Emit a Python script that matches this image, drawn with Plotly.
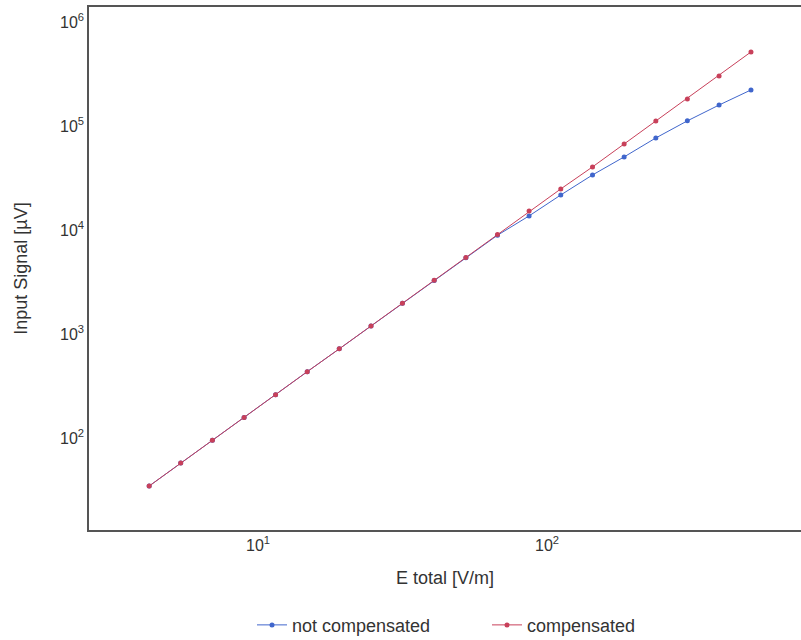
import plotly.graph_objects as go

# E total [V/m]
e_total = [4.20, 5.40, 6.95, 8.95, 11.5, 14.8, 19.1, 24.6, 31.6, 40.7,
           52.4, 67.4, 86.7, 111.6, 143.7, 184.9, 238, 306, 394, 508]

compensated = [34.5, 57.3, 95, 157, 261, 434, 719, 1194, 1978, 3281,
               5445, 9036, 15200, 24800, 40400, 67100, 111700, 182000, 303000, 515000]

not_compensated = [34.5, 57.3, 95, 157, 261, 434, 719, 1194, 1978, 3270,
                   5400, 8900, 13650, 21700, 33800, 50400, 76700, 112000, 159000, 222000]

y_tickvals = [1e2, 1e3, 1e4, 1e5, 1e6]
y_ticktext = ["10<sup>2</sup>", "10<sup>3</sup>", "10<sup>4</sup>", "10<sup>5</sup>", "10<sup>6</sup>"]
x_tickvals = [1e1, 1e2]
x_ticktext = ["10<sup>1</sup>", "10<sup>2</sup>"]

blue = "#4066cc"
red = "#c8405a"

fig = go.Figure()
fig.add_trace(go.Scatter(
    x=e_total, y=not_compensated, mode="lines+markers", name="not compensated",
    line=dict(color=blue, width=1), marker=dict(color=blue, size=5)))
fig.add_trace(go.Scatter(
    x=e_total, y=compensated, mode="lines+markers", name="compensated",
    line=dict(color=red, width=1), marker=dict(color=red, size=5)))

font = "Liberation Sans, Arial, sans-serif"
fig.update_layout(
    width=801, height=640,
    margin=dict(l=89, r=0, t=7, b=110, autoexpand=False),
    paper_bgcolor="white", plot_bgcolor="white",
    font=dict(family=font, size=16, color="#333333"),
    showlegend=True,
    legend=dict(orientation="h", x=0.559, xanchor="center", y=-0.182, yanchor="middle",
                font=dict(size=18, color="#333333"), entrywidth=190, entrywidthmode="pixels"),
    xaxis=dict(type="log", range=[0.415, 2.879], tickvals=x_tickvals, ticktext=x_ticktext,
               showgrid=False, zeroline=False, showline=True, linecolor="#555555", linewidth=1.5,
               mirror=True, ticks="", tickfont=dict(size=16), automargin=False,
               title=dict(text="E total [V/m]", standoff=18, font=dict(size=18))),
    yaxis=dict(type="log", range=[1.115, 6.144], tickvals=y_tickvals, ticktext=y_ticktext,
               showgrid=False, zeroline=False, showline=True, linecolor="#555555", linewidth=1.5,
               mirror=False, ticks="", tickfont=dict(size=16), automargin=False,
               title=dict(text="Input Signal [µV]", standoff=28, font=dict(size=18))),
)

fig.write_html("out.html")
